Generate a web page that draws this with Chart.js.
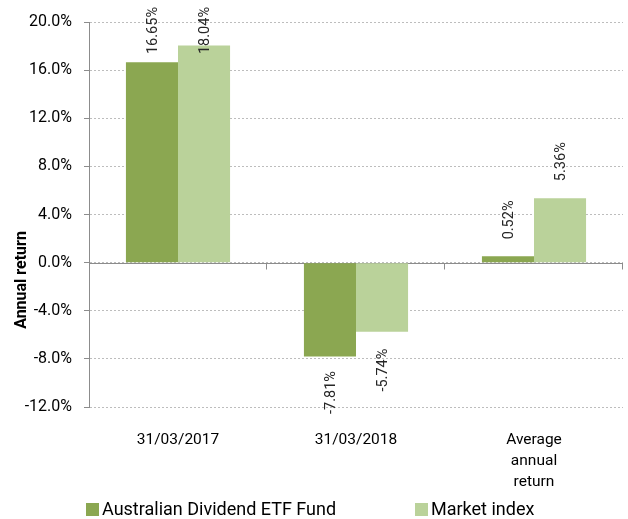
<!DOCTYPE html>
<html><head><meta charset="utf-8">
<script src="https://cdn.jsdelivr.net/npm/chart.js@4/dist/chart.umd.min.js"></script>
<style>
html,body{margin:0;padding:0;background:#fff;}
#wrap{position:relative;width:628px;height:519px;overflow:hidden;}
#legend{position:absolute;left:0;top:498px;width:628px;height:21px;font-family:Roboto,sans-serif;font-size:18px;color:#000;}
.li{position:absolute;top:0;line-height:21px;white-space:nowrap;}
.sw{display:inline-block;width:13px;height:13px;margin-right:3px;vertical-align:-1px;}
</style></head>
<body><div id="wrap"><canvas id="c" width="628" height="519"></canvas>
<div id="legend"></div></div>
<script>
const categories = ['31/03/2017', '31/03/2018', ['Average', 'annual', 'return']];
const seriesNames = ['Australian Dividend ETF Fund', 'Market index'];
const fundValues = [16.65, -7.81, 0.52];
const indexValues = [18.04, -5.74, 5.36];
const yTicks = [-12, -8, -4, 0, 4, 8, 12, 16, 20];
const colors = ['#8BA751', '#BAD29A'];

const labelPlugin = {
  id: 'valueLabels',
  afterDatasetsDraw(chart) {
    const ctx = chart.ctx;
    ctx.save();
    ctx.font = '14.5px Roboto';
    ctx.fillStyle = '#262626';
    ctx.textBaseline = 'middle';
    chart.data.datasets.forEach((ds, di) => {
      chart.getDatasetMeta(di).data.forEach((bar, i) => {
        const v = ds.data[i];
        const txt = v.toFixed(2) + '%';
        const w = ctx.measureText(txt).width;
        let start, end;
        if (v >= 0) {
          end = bar.y - 17; start = end - w;
          if (start < 7) { start = 7; end = start + w; }
        } else {
          start = Math.max(bar.y + 11, Math.min(bar.y + 17, 414 - w)); end = start + w;
        }
        ctx.save();
        ctx.translate(bar.x + 1, end);
        ctx.rotate(-Math.PI / 2);
        ctx.textAlign = 'left';
        ctx.fillText(txt, 0, 0);
        ctx.restore();
      });
    });
    ctx.save();
    ctx.font = 'bold 16px Roboto';
    ctx.fillStyle = '#000';
    ctx.translate(22, 280);
    ctx.rotate(-Math.PI / 2);
    ctx.textAlign = 'center';
    ctx.textBaseline = 'middle';
    ctx.fillText('Annual return', 0, 0);
    ctx.restore();
    ctx.restore();
  },
  beforeDatasetsDraw(chart) {
    const ctx = chart.ctx, x = chart.scales.x, y = chart.scales.y;
    const y0 = Math.round(y.getPixelForValue(0)) + 0.5;
    ctx.save();
    ctx.strokeStyle = '#8c8c8c';
    ctx.lineWidth = 1;
    ctx.beginPath();
    ctx.moveTo(chart.chartArea.left, y0);
    ctx.lineTo(chart.chartArea.right, y0);
    const n = categories.length;
    for (let i = 1; i <= n; i++) {
      const px = Math.round(x.left + (x.right - x.left) * i / n) - 0.5;
      ctx.moveTo(px, y0);
      ctx.lineTo(px, y0 + 6);
    }
    ctx.stroke();
    ctx.restore();
  }
};

const chart = new Chart(document.getElementById('c'), {
  type: 'bar',
  data: {
    labels: categories,
    datasets: [
      { label: seriesNames[0], data: fundValues, backgroundColor: colors[0] },
      { label: seriesNames[1], data: indexValues, backgroundColor: colors[1] }
    ]
  },
  options: {
    responsive: false,
    animation: false,
    devicePixelRatio: 1,
    layout: { padding: { top: 22, right: 5, left: 0, bottom: 0 } },
    datasets: { bar: { barPercentage: 1, categoryPercentage: 0.585 } },
    plugins: { legend: { display: false }, tooltip: { enabled: false } },
    scales: {
      x: {
        grid: { display: false, drawTicks: false },
        border: { display: false },
        ticks: { font: { family: 'Roboto', size: 15.5, lineHeight: 1.35 }, color: '#000', padding: 23, maxRotation: 0 },
        afterFit(s) { s.height = 112; }
      },
      y: {
        min: -12, max: 20,
        afterBuildTicks(s) { s.ticks = yTicks.map(v => ({ value: v })); },
        afterFit(s) { s.width = 89; },
        ticks: { font: { family: 'Roboto', size: 16 }, color: '#000', padding: 12, callback: v => v.toFixed(1) + '%' },
        grid: { color: '#bdbdbd', tickColor: '#8c8c8c', tickLength: 5, tickBorderDash: [] },
        border: { display: true, color: '#8c8c8c', width: 1, dash: [2, 2] }
      }
    }
  },
  plugins: [labelPlugin]
});

const lg = document.getElementById('legend');
const pos = [86, 415];
seriesNames.forEach((n, i) => {
  const d = document.createElement('div');
  d.className = 'li';
  d.style.left = pos[i] + 'px';
  d.innerHTML = '<span class="sw" style="background:' + colors[i] + '"></span>' + n;
  lg.appendChild(d);
});
</script></body></html>
